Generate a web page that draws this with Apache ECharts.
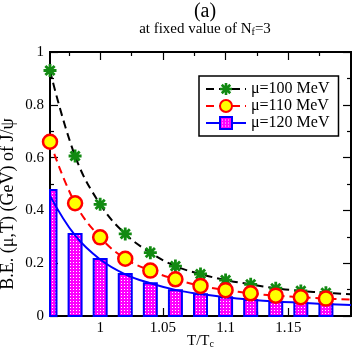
<!DOCTYPE html>
<html>
<head>
<meta charset="utf-8">
<script src="https://cdn.jsdelivr.net/npm/echarts@6/dist/echarts.min.js"></script>
<style>
html, body { margin: 0; padding: 0; background: #fff; }
#chart { width: 354px; height: 354px; }
</style>
</head>
<body>
<div id="chart"></div>
<script>
// T/Tc points and binding energies
const tRatio = [0.96, 0.98, 1.00, 1.02, 1.04, 1.06, 1.08, 1.10, 1.12, 1.14, 1.16, 1.18];
const be100 = [0.930, 0.606, 0.423, 0.311, 0.240, 0.189, 0.159, 0.136, 0.120, 0.105, 0.095, 0.088];
const be110 = [0.660, 0.427, 0.298, 0.217, 0.172, 0.139, 0.114, 0.098, 0.086, 0.077, 0.071, 0.066];
const be120 = [0.477, 0.311, 0.216, 0.159, 0.124, 0.098, 0.082, 0.071, 0.061, 0.054, 0.050, 0.045];

// fitted curves, sampled at the same points plus the right edge
const curveT = [0.96, 0.98, 1.00, 1.02, 1.04, 1.06, 1.08, 1.10, 1.12, 1.14, 1.16, 1.18, 1.20];
const fit100 = [0.930, 0.606, 0.423, 0.311, 0.240, 0.189, 0.159, 0.136, 0.120, 0.105, 0.095, 0.088, 0.082];
const fit110 = [0.660, 0.427, 0.298, 0.217, 0.172, 0.139, 0.114, 0.098, 0.086, 0.077, 0.071, 0.066, 0.062];
const fit120 = [0.455, 0.305, 0.214, 0.158, 0.124, 0.099, 0.083, 0.071, 0.062, 0.055, 0.050, 0.045, 0.042];

const xMajorTicks = [1, 1.05, 1.1, 1.15];
const xMinorTicks = [0.975, 1.025, 1.075, 1.125, 1.175];
const seriesNames = ['μ=100 MeV', 'μ=110 MeV', 'μ=120 MeV'];

const serif = 'Liberation Serif, Times New Roman, serif';
const starPath = 'path://M-1.3,-6L1.3,-6L1.3,6L-1.3,6Z M-6,-1.3L6,-1.3L6,1.3L-6,1.3Z ' +
    'M3.323,-5.162L5.162,-3.323L-3.323,5.162L-5.162,3.323Z M-5.162,-3.323L-3.323,-5.162L5.162,3.323L3.323,5.162Z';

const makePattern = () => {
    const c = document.createElement('canvas');
    c.width = 3;
    c.height = 3;
    const ctx = c.getContext('2d');
    ctx.fillStyle = '#ff00ff';
    ctx.fillRect(0, 0, 3, 3);
    ctx.fillStyle = '#ffffff';
    ctx.fillRect(1, 1, 1, 1);
    return { image: c, repeat: 'repeat' };
}
const barFill = makePattern();
const barWidth = 13;

const pairs = (xs, ys) => xs.map((x, i) => [x, ys[i]]);

// bars drawn as custom rects so the one at the left edge gets cut by the frame
const renderBar = (params, api) => {
    const top = api.coord([api.value(0), api.value(1)]);
    const base = api.coord([api.value(0), 0]);
    const cs = params.coordSys;
    const shape = echarts.graphic.clipRectByRect(
        { x: top[0] - barWidth / 2, y: top[1], width: barWidth, height: base[1] - top[1] },
        { x: cs.x, y: cs.y, width: cs.width, height: cs.height }
    );
    if (!shape) return;
    return {
        type: 'rect',
        shape: shape,
        style: { fill: barFill, stroke: '#0000ff', lineWidth: 2 }
    };
}

const frameLine = { lineStyle: { color: '#000', width: 2 } };

const xAxisBase = (position, ticks, length, showLabel) => ({
    type: 'value',
    min: 0.96,
    max: 1.2,
    position: position,
    axisLine: { show: true, onZero: false, ...frameLine },
    axisTick: { inside: true, length: length, customValues: ticks, lineStyle: { color: '#000', width: 1.2 } },
    axisLabel: showLabel
        ? { customValues: ticks, color: '#000', fontFamily: serif, fontSize: 15, margin: 5 }
        : { show: false },
    splitLine: { show: false }
});

const yAxisBase = (position, showLabel) => ({
    type: 'value',
    min: 0,
    max: 1,
    interval: 0.2,
    position: position,
    axisLine: { show: true, onZero: false, ...frameLine },
    axisTick: { inside: true, length: 8, lineStyle: { color: '#000', width: 1.2 } },
    minorTick: { show: true, splitNumber: 2, length: 4, lineStyle: { color: '#000', width: 1.2 } },
    axisLabel: showLabel
        ? { color: '#000', fontFamily: serif, fontSize: 15, margin: 6 }
        : { show: false },
    splitLine: { show: false },
    minorSplitLine: { show: false }
});

const bottomAxis = xAxisBase('bottom', xMajorTicks, 8, true);
bottomAxis.name = '{m|T/T}{s|c}';
bottomAxis.nameLocation = 'middle';
bottomAxis.nameGap = 18;
bottomAxis.nameMoveOverlap = false;
bottomAxis.nameTextStyle = {
    rich: {
        m: { fontFamily: serif, fontSize: 15, color: '#000', lineHeight: 15, padding: [0, 0, 4, 0], verticalAlign: 'top' },
        s: { fontFamily: serif, fontSize: 10, color: '#000', lineHeight: 10, verticalAlign: 'bottom' }
    }
};

const leftAxis = yAxisBase('left', true);
leftAxis.name = 'B.E. (μ,T) (GeV) of J/ψ';
leftAxis.nameLocation = 'middle';
leftAxis.nameGap = 33;
leftAxis.nameMoveOverlap = false;
leftAxis.nameTextStyle = { fontFamily: serif, fontSize: 18, color: '#000', padding: [0, 40, 0, 0] };

const option = {
    animation: false,
    backgroundColor: '#fff',
    title: {
        text: '(a)',
        subtext: '{t|at fixed value of N}{s|f}{t|=3}',
        left: 200,
        top: 0,
        textAlign: 'center',
        padding: [2, 5],
        itemGap: 0,
        textStyle: { fontFamily: serif, fontSize: 20, fontWeight: 'normal', color: '#000' },
        subtextStyle: {
            rich: {
                t: { fontFamily: serif, fontSize: 15, color: '#000', lineHeight: 15, padding: [0, 0, 3, 0], verticalAlign: 'top' },
                s: { fontFamily: serif, fontSize: 10, color: '#000', lineHeight: 10, verticalAlign: 'bottom' }
            }
        }
    },
    legend: {
        data: seriesNames,
        orient: 'vertical',
        left: 199,
        top: 76,
        padding: [5, 9, 5, 6],
        itemGap: 1,
        itemWidth: 40,
        itemHeight: 15,
        backgroundColor: '#fff',
        borderColor: '#000',
        borderWidth: 1.5,
        borderRadius: 0,
        selectedMode: false,
        textStyle: { fontFamily: serif, fontSize: 16, color: '#000' }
    },
    grid: { left: 50, right: 3, top: 52, bottom: 38, outerBoundsMode: 'none', containLabel: false },
    xAxis: [
        bottomAxis,
        xAxisBase('bottom', xMinorTicks, 4, false),
        xAxisBase('top', xMajorTicks, 8, false),
        xAxisBase('top', xMinorTicks, 4, false)
    ],
    yAxis: [leftAxis, yAxisBase('right', false)],
    series: [
        {
            name: seriesNames[2] + ' bars',
            type: 'custom',
            renderItem: renderBar,
            data: pairs(tRatio, be120),
            encode: { x: 0, y: 1 },
            z: 1
        },
        {
            name: seriesNames[0],
            type: 'line',
            data: pairs(curveT, fit100),
            smooth: 0.4,
            showSymbol: false,
            symbol: starPath,
            itemStyle: { color: '#128a12' },
            lineStyle: { color: '#000', width: 2, type: [8, 5] },
            z: 2
        },
        {
            name: seriesNames[1],
            type: 'line',
            data: pairs(curveT, fit110),
            smooth: 0.4,
            showSymbol: false,
            symbol: 'circle',
            itemStyle: { color: '#ffff00', borderColor: '#ff0000', borderWidth: 2.5 },
            lineStyle: { color: '#ff0000', width: 2, type: [8, 5] },
            z: 2
        },
        {
            name: seriesNames[2],
            type: 'line',
            data: pairs(curveT, fit120),
            smooth: 0.4,
            showSymbol: false,
            symbol: 'rect',
            itemStyle: { color: barFill, borderColor: '#0000ff', borderWidth: 2 },
            lineStyle: { color: '#0000ff', width: 2 },
            z: 2
        },
        {
            name: seriesNames[0] + ' points',
            type: 'scatter',
            data: pairs(tRatio, be100),
            symbol: starPath,
            symbolSize: 13,
            itemStyle: { color: '#128a12', opacity: 1 },
            z: 3
        },
        {
            name: seriesNames[1] + ' points',
            type: 'scatter',
            data: pairs(tRatio, be110),
            symbol: 'circle',
            symbolSize: 14,
            itemStyle: { color: '#ffff00', borderColor: '#ff0000', borderWidth: 2.5, opacity: 1 },
            z: 3
        }
    ]
};

const chart = echarts.init(document.getElementById('chart'));
chart.setOption(option);
</script>
</body>
</html>
